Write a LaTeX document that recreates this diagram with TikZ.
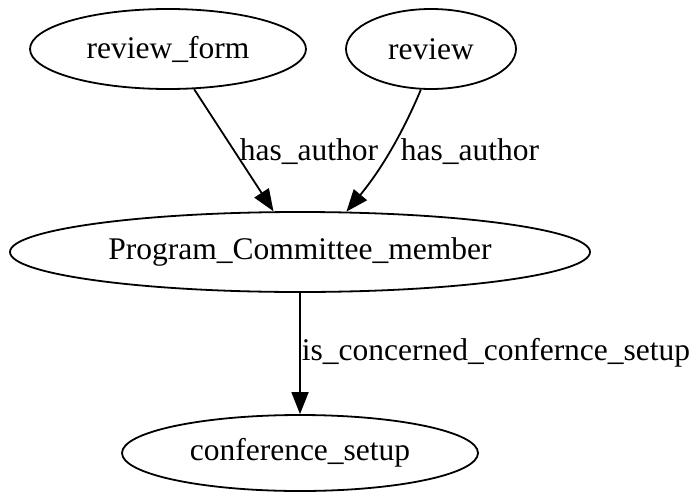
\documentclass[tikz,border=0pt]{standalone}
\usepackage{fontspec}
\setmainfont{Liberation Serif}
\usetikzlibrary{shapes.geometric,arrows.meta}
\begin{document}
\begin{tikzpicture}[x=1pt,y=-1pt,
  ent/.style={draw,ellipse,line width=1.8pt,inner sep=0pt,font=\rmfamily\fontsize{31.5}{36}\selectfont},
  lbl/.style={font=\rmfamily\fontsize{31.5}{36}\selectfont,inner sep=0pt},
  rel/.style={line width=1.8pt,-{Triangle[length=22pt,width=17pt]}}]
\useasboundingbox (0,0) rectangle (700,503);
\node[ent,minimum width=276pt,minimum height=80pt] (rf) at (168,49) {review\_form};
\node[ent,minimum width=170pt,minimum height=80pt] (rv) at (431,49) {review};
\node[ent,minimum width=580pt,minimum height=80pt] (pc) at (300,252) {Program\_Committee\_member};
\node[ent,minimum width=356pt,minimum height=76pt] (cs) at (300,453) {conference\_setup};
\draw[rel] (rf) -- (pc);
\draw[rel] (rv.-104) .. controls (406,125) and (385,165) .. (pc.41.6);
\draw[rel] (pc) -- (cs);
\node[lbl] (l1) at (309,152) {has\_author};
\node[lbl] (l2) at (470,152) {has\_author};
\node[lbl] (l3) at (496,353) {is\_concerned\_confernce\_setup};
\end{tikzpicture}
\end{document}
